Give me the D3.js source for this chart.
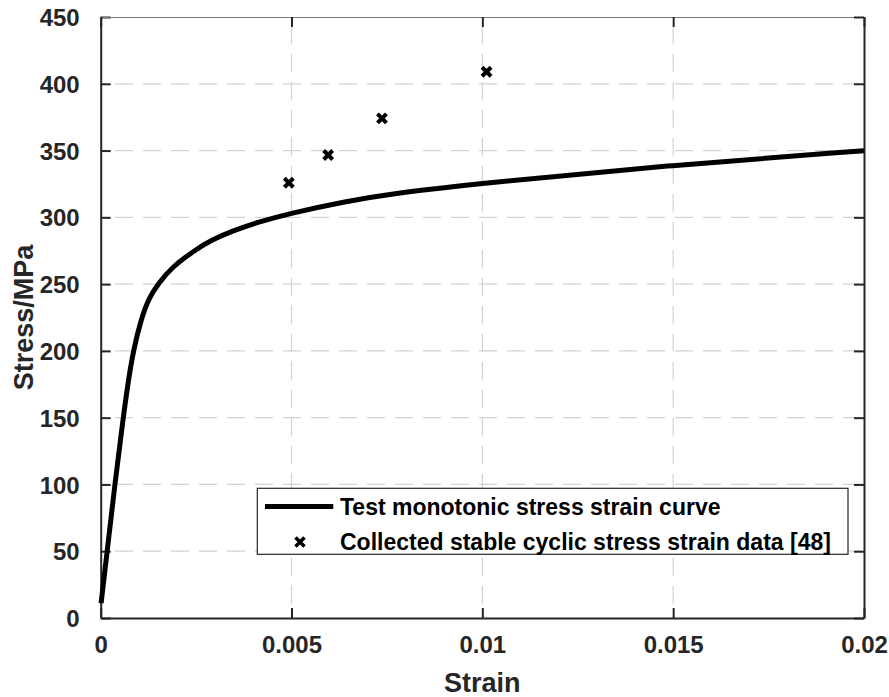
<!DOCTYPE html>
<html>
<head>
<meta charset="utf-8">
<script src="https://cdn.jsdelivr.net/npm/d3@7"></script>
<style>
  body { margin: 0; background: #fff; }
  text { font-family: "Liberation Sans", Arial, sans-serif; font-weight: bold; fill: #262626; }
</style>
</head>
<body>
<div id="chart"></div>
<script>
// monotonic test curve
const curveStrain = [0.00001, 0.00017, 0.00037, 0.00059, 0.00071, 0.00085, 0.00107, 0.00127, 0.0015, 0.00187, 0.0025, 0.0029, 0.00347, 0.00408, 0.00496, 0.00643, 0.00768, 0.00993, 0.015, 0.02];
const curveStress = [11, 50, 100, 150, 175, 200, 225, 240, 250, 263, 276, 283, 290, 296, 303, 312, 318, 325.5, 339.2, 349.9];
// cyclic points [48]
const cycStrain = [0.00493, 0.00596, 0.00737, 0.01011];
const cycStress = [325.9, 346.7, 374.1, 409.0];
const xTicks = [0, 0.005, 0.01, 0.015, 0.02];
const xTickLabels = ["0", "0.005", "0.01", "0.015", "0.02"];
const yTicks = [0, 50, 100, 150, 200, 250, 300, 350, 400, 450];
const legendLabels = ["Test monotonic stress strain curve", "Collected stable cyclic stress strain data [48]"];

const W = 889, H = 697;
const pLeft = 100.7, pRight = 864, pTop = 17, pBottom = 618;

const svg = d3.select("#chart").append("svg")
    .attr("width", W)
    .attr("height", H);

const x = d3.scaleLinear().domain([0, 0.02]).range([pLeft, pRight]);
const y = d3.scaleLinear().domain([0, 450]).range([pBottom, pTop]);

// grid
svg.append("g").selectAll("line")
  .data(yTicks.filter(d => d > 0 && d < 450))
  .enter().append("line")
    .attr("x1", pLeft).attr("x2", pRight)
    .attr("y1", d => y(d)).attr("y2", d => y(d))
    .attr("stroke", "#d2d2d2").attr("stroke-width", 1.2)
    .attr("stroke-dasharray", "18,10").attr("stroke-dashoffset", 13.7);
svg.append("g").selectAll("line")
  .data(xTicks.filter(d => d > 0 && d < 0.02))
  .enter().append("line")
    .attr("x1", d => x(d)).attr("x2", d => x(d))
    .attr("y1", pBottom).attr("y2", pTop)
    .attr("stroke", "#d2d2d2").attr("stroke-width", 1.2)
    .attr("stroke-dasharray", "18,10").attr("stroke-dashoffset", 13.7);

// axes (box with inward ticks)
const tickLen = 10;
const xAxis = d3.axisBottom(x).tickValues(xTicks).tickFormat((d, i) => xTickLabels[i])
    .tickSizeInner(-tickLen).tickSizeOuter(0).tickPadding(18);
const yAxis = d3.axisLeft(y).tickValues(yTicks).tickFormat(d3.format("d"))
    .tickSizeInner(-tickLen).tickSizeOuter(0).tickPadding(21);

const gx = svg.append("g").attr("transform", `translate(0,${pBottom})`).call(xAxis);
const gy = svg.append("g").attr("transform", `translate(${pLeft},0)`).call(yAxis);
const gxTop = svg.append("g").attr("transform", `translate(0,${pTop})`)
    .call(d3.axisTop(x).tickValues(xTicks).tickSizeInner(-tickLen).tickSizeOuter(0).tickFormat(""));
const gyRight = svg.append("g").attr("transform", `translate(${pRight},0)`)
    .call(d3.axisRight(y).tickValues(yTicks).tickSizeInner(-tickLen).tickSizeOuter(0).tickFormat(""));

[gx, gy, gxTop, gyRight].forEach(g => {
  g.select(".domain").attr("stroke", "#262626").attr("stroke-width", 2);
  g.selectAll(".tick line").attr("stroke", "#262626").attr("stroke-width", 2);
  g.selectAll(".tick text")
    .attr("font-family", "Liberation Sans, Arial, sans-serif")
    .attr("font-weight", "bold")
    .attr("font-size", 24)
    .attr("fill", "#262626");
});
gxTop.select(".domain").attr("stroke", "#777").attr("stroke-width", 1);
gy.selectAll(".tick text").attr("dy", "0.36em");

// axis labels
svg.append("text")
  .attr("x", (pLeft + pRight) / 2)
  .attr("y", 692)
  .attr("text-anchor", "middle")
  .attr("font-size", 27)
  .text("Strain");
svg.append("text")
  .attr("transform", `translate(33,${(pTop + pBottom) / 2}) rotate(-90)`)
  .attr("text-anchor", "middle")
  .attr("font-size", 27)
  .text("Stress/MPa");

// curve
const curveData = curveStrain.map((s, i) => ({ s: s, v: curveStress[i] }));
svg.append("path")
  .datum(curveData)
  .attr("fill", "none")
  .attr("stroke", "#000")
  .attr("stroke-width", 5)
  .attr("d", d3.line()
    .x(d => x(d.s))
    .y(d => y(d.v))
    .curve(d3.curveBasis));

// bold cross markers
const crossPath = "M-4.5,-4.5L4.5,4.5M-4.5,4.5L4.5,-4.5";
svg.append("g").selectAll("path")
  .data(cycStrain.map((s, i) => ({ s: s, v: cycStress[i] })))
  .enter().append("path")
    .attr("d", crossPath)
    .attr("transform", d => `translate(${x(d.s)},${y(d.v)})`)
    .attr("fill", "none")
    .attr("stroke", "#000")
    .attr("stroke-width", 4);

// legend
const lg = svg.append("g");
lg.append("rect")
  .attr("x", 257.3).attr("y", 488.3)
  .attr("width", 590.7).attr("height", 66)
  .attr("fill", "#fff").attr("stroke", "#262626").attr("stroke-width", 1.2);
lg.append("line")
  .attr("x1", 265).attr("x2", 333.3)
  .attr("y1", 506.5).attr("y2", 506.5)
  .attr("stroke", "#000").attr("stroke-width", 5);
lg.append("path")
  .attr("d", crossPath)
  .attr("transform", "translate(300,542)")
  .attr("fill", "none").attr("stroke", "#000").attr("stroke-width", 3.5);
lg.selectAll("text.leg")
  .data(legendLabels)
  .enter().append("text")
    .attr("class", "leg")
    .attr("x", 340)
    .attr("y", (d, i) => 515 + i * 35)
    .attr("font-size", 23)
    .style("fill", "#000")
    .text(d => d);
</script>
</body>
</html>
